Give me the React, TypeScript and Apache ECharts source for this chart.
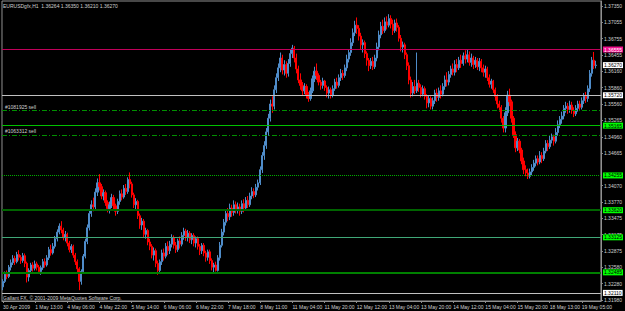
import React, { useEffect, useRef } from 'react';
import * as echarts from 'echarts';

const symbolTitle = 'EURUSDgfx,H1  1.36264 1.36350 1.36210 1.36270';
const copyrightText = 'Gallant FX, \u00A9 2001-2009 MetaQuotes Software Corp.';

const xTickLabels = [
  '30 Apr 2009', '1 May 13:00', '4 May 06:00', '4 May 22:00', '5 May 14:00', '6 May 06:00',
  '6 May 22:00', '7 May 18:00', '8 May 11:00', '11 May 04:00', '11 May 20:00', '12 May 12:00',
  '13 May 04:00', '13 May 20:00', '14 May 12:00', '15 May 04:00', '15 May 20:00', '18 May 13:00',
  '19 May 05:00',
];
const labelEveryBars = 16;
const emptyBarsRight = 2;

const yTicks = [
  1.3198, 1.3228, 1.3258, 1.32875, 1.33175, 1.33475, 1.3377, 1.3407, 1.34665, 1.3496,
  1.35265, 1.3556, 1.3586, 1.3616, 1.36455, 1.36755, 1.37055, 1.3735,
];
const yMin = 1.31962;
const yMax = 1.37441;

// [open, close, low, high]
const candles = [
  [1.3222, 1.3232, 1.3216, 1.3236], [1.3232, 1.3245, 1.3229, 1.3250], [1.3245, 1.3241, 1.3236, 1.3252],
  [1.3241, 1.3258, 1.3238, 1.3262], [1.3258, 1.3266, 1.3252, 1.3272], [1.3266, 1.3274, 1.3262, 1.3280],
  [1.3274, 1.3268, 1.3262, 1.3279], [1.3268, 1.3281, 1.3265, 1.3286], [1.3281, 1.3276, 1.3270, 1.3289],
  [1.3276, 1.3270, 1.3264, 1.3280], [1.3270, 1.3279, 1.3266, 1.3284], [1.3279, 1.3265, 1.3258, 1.3283],
  [1.3265, 1.3240, 1.3230, 1.3268], [1.3240, 1.3252, 1.3232, 1.3256], [1.3252, 1.3262, 1.3248, 1.3266],
  [1.3262, 1.3256, 1.3250, 1.3267], [1.3256, 1.3264, 1.3252, 1.3270], [1.3264, 1.3258, 1.3252, 1.3268],
  [1.3258, 1.3250, 1.3246, 1.3262], [1.3250, 1.3257, 1.3244, 1.3261], [1.3257, 1.3268, 1.3253, 1.3273],
  [1.3268, 1.3262, 1.3257, 1.3274], [1.3262, 1.3275, 1.3259, 1.3280], [1.3275, 1.3290, 1.3271, 1.3295],
  [1.3290, 1.3284, 1.3279, 1.3299], [1.3284, 1.3296, 1.3281, 1.3302], [1.3296, 1.3310, 1.3292, 1.3315],
  [1.3310, 1.3322, 1.3305, 1.3327], [1.3322, 1.3333, 1.3318, 1.3338], [1.3333, 1.3326, 1.3320, 1.3342],
  [1.3326, 1.3312, 1.3307, 1.3330], [1.3312, 1.3318, 1.3305, 1.3324], [1.3318, 1.3302, 1.3296, 1.3321],
  [1.3302, 1.3290, 1.3285, 1.3306], [1.3290, 1.3296, 1.3284, 1.3300], [1.3296, 1.3280, 1.3275, 1.3299],
  [1.3280, 1.3268, 1.3262, 1.3284], [1.3268, 1.3255, 1.3248, 1.3272], [1.3255, 1.3232, 1.3216, 1.3258],
  [1.3232, 1.3250, 1.3226, 1.3254], [1.3250, 1.3278, 1.3246, 1.3282], [1.3278, 1.3305, 1.3274, 1.3310],
  [1.3305, 1.3330, 1.3300, 1.3336], [1.3330, 1.3356, 1.3325, 1.3362], [1.3356, 1.3372, 1.3350, 1.3380],
  [1.3372, 1.3368, 1.3360, 1.3385], [1.3368, 1.3395, 1.3364, 1.3402], [1.3395, 1.3412, 1.3388, 1.3420],
  [1.3412, 1.3405, 1.3398, 1.3428], [1.3405, 1.3388, 1.3382, 1.3410], [1.3388, 1.3394, 1.3380, 1.3400],
  [1.3394, 1.3376, 1.3370, 1.3398], [1.3376, 1.3365, 1.3358, 1.3380], [1.3365, 1.3372, 1.3356, 1.3378],
  [1.3372, 1.3385, 1.3366, 1.3392], [1.3385, 1.3370, 1.3364, 1.3390], [1.3370, 1.3360, 1.3352, 1.3374],
  [1.3360, 1.3378, 1.3355, 1.3383], [1.3378, 1.3392, 1.3372, 1.3398], [1.3392, 1.3386, 1.3380, 1.3400],
  [1.3386, 1.3402, 1.3383, 1.3408], [1.3402, 1.3396, 1.3390, 1.3410], [1.3396, 1.3418, 1.3392, 1.3422],
  [1.3418, 1.3410, 1.3402, 1.3431], [1.3410, 1.3390, 1.3385, 1.3414], [1.3390, 1.3372, 1.3366, 1.3394],
  [1.3372, 1.3378, 1.3362, 1.3384], [1.3378, 1.3352, 1.3346, 1.3381], [1.3352, 1.3335, 1.3328, 1.3356],
  [1.3335, 1.3342, 1.3326, 1.3348], [1.3342, 1.3318, 1.3312, 1.3346], [1.3318, 1.3325, 1.3310, 1.3330],
  [1.3325, 1.3304, 1.3298, 1.3328], [1.3304, 1.3296, 1.3289, 1.3310], [1.3296, 1.3280, 1.3274, 1.3300],
  [1.3280, 1.3288, 1.3270, 1.3294], [1.3288, 1.3265, 1.3258, 1.3292], [1.3265, 1.3252, 1.3244, 1.3270],
  [1.3252, 1.3268, 1.3246, 1.3272], [1.3268, 1.3284, 1.3262, 1.3290], [1.3284, 1.3278, 1.3270, 1.3292],
  [1.3278, 1.3296, 1.3274, 1.3302], [1.3296, 1.3288, 1.3280, 1.3305], [1.3288, 1.3300, 1.3282, 1.3306],
  [1.3300, 1.3312, 1.3294, 1.3318], [1.3312, 1.3298, 1.3292, 1.3316], [1.3298, 1.3290, 1.3284, 1.3304],
  [1.3290, 1.3306, 1.3286, 1.3310], [1.3306, 1.3300, 1.3292, 1.3314], [1.3300, 1.3316, 1.3296, 1.3322],
  [1.3316, 1.3324, 1.3308, 1.3330], [1.3324, 1.3312, 1.3306, 1.3328], [1.3312, 1.3320, 1.3305, 1.3326],
  [1.3320, 1.3308, 1.3302, 1.3324], [1.3308, 1.3316, 1.3300, 1.3320], [1.3316, 1.3302, 1.3296, 1.3320],
  [1.3302, 1.3310, 1.3294, 1.3314], [1.3310, 1.3296, 1.3290, 1.3314], [1.3296, 1.3288, 1.3280, 1.3300],
  [1.3288, 1.3298, 1.3282, 1.3302], [1.3298, 1.3284, 1.3278, 1.3302], [1.3284, 1.3276, 1.3268, 1.3288],
  [1.3276, 1.3286, 1.3270, 1.3290], [1.3286, 1.3270, 1.3264, 1.3290], [1.3270, 1.3258, 1.3252, 1.3274],
  [1.3258, 1.3262, 1.3248, 1.3266], [1.3262, 1.3252, 1.3250, 1.3268], [1.3252, 1.3275, 1.3250, 1.3280],
  [1.3275, 1.3298, 1.3270, 1.3304], [1.3298, 1.3322, 1.3294, 1.3328], [1.3322, 1.3340, 1.3316, 1.3346],
  [1.3340, 1.3356, 1.3334, 1.3362], [1.3356, 1.3350, 1.3342, 1.3366], [1.3350, 1.3366, 1.3344, 1.3374],
  [1.3366, 1.3358, 1.3350, 1.3372], [1.3358, 1.3372, 1.3352, 1.3380], [1.3372, 1.3362, 1.3356, 1.3378],
  [1.3362, 1.3368, 1.3356, 1.3376], [1.3368, 1.3360, 1.3352, 1.3374], [1.3360, 1.3374, 1.3355, 1.3380],
  [1.3374, 1.3366, 1.3358, 1.3382], [1.3366, 1.3380, 1.3362, 1.3386], [1.3380, 1.3372, 1.3366, 1.3388],
  [1.3372, 1.3388, 1.3368, 1.3394], [1.3388, 1.3396, 1.3382, 1.3404], [1.3396, 1.3390, 1.3384, 1.3402],
  [1.3390, 1.3404, 1.3386, 1.3410], [1.3404, 1.3412, 1.3398, 1.3418], [1.3412, 1.3436, 1.3408, 1.3442],
  [1.3436, 1.3462, 1.3430, 1.3468], [1.3462, 1.3480, 1.3454, 1.3488], [1.3480, 1.3505, 1.3474, 1.3512],
  [1.3505, 1.3530, 1.3498, 1.3538], [1.3530, 1.3556, 1.3524, 1.3564], [1.3556, 1.3552, 1.3540, 1.3570],
  [1.3552, 1.3582, 1.3546, 1.3590], [1.3582, 1.3604, 1.3576, 1.3612], [1.3604, 1.3622, 1.3598, 1.3630],
  [1.3622, 1.3640, 1.3614, 1.3650], [1.3640, 1.3618, 1.3610, 1.3646], [1.3618, 1.3628, 1.3608, 1.3636],
  [1.3628, 1.3612, 1.3604, 1.3634], [1.3612, 1.3630, 1.3606, 1.3638], [1.3630, 1.3648, 1.3624, 1.3656],
  [1.3648, 1.3658, 1.3640, 1.3664], [1.3658, 1.3640, 1.3632, 1.3662], [1.3640, 1.3620, 1.3612, 1.3648],
  [1.3620, 1.3600, 1.3594, 1.3626], [1.3600, 1.3590, 1.3582, 1.3612], [1.3590, 1.3580, 1.3572, 1.3596],
  [1.3580, 1.3588, 1.3574, 1.3594], [1.3588, 1.3572, 1.3566, 1.3592], [1.3572, 1.3566, 1.3560, 1.3578],
  [1.3566, 1.3580, 1.3562, 1.3586], [1.3580, 1.3602, 1.3576, 1.3608], [1.3602, 1.3616, 1.3596, 1.3624],
  [1.3616, 1.3608, 1.3600, 1.3630], [1.3608, 1.3596, 1.3590, 1.3612], [1.3596, 1.3590, 1.3582, 1.3600],
  [1.3590, 1.3598, 1.3584, 1.3604], [1.3598, 1.3586, 1.3580, 1.3600], [1.3586, 1.3576, 1.3568, 1.3590],
  [1.3576, 1.3582, 1.3566, 1.3588], [1.3582, 1.3572, 1.3566, 1.3586], [1.3572, 1.3584, 1.3568, 1.3590],
  [1.3584, 1.3596, 1.3580, 1.3602], [1.3596, 1.3590, 1.3584, 1.3604], [1.3590, 1.3604, 1.3586, 1.3610],
  [1.3604, 1.3612, 1.3598, 1.3620], [1.3612, 1.3608, 1.3600, 1.3618], [1.3608, 1.3622, 1.3604, 1.3628],
  [1.3622, 1.3638, 1.3616, 1.3646], [1.3638, 1.3650, 1.3632, 1.3656], [1.3650, 1.3668, 1.3644, 1.3676],
  [1.3668, 1.3686, 1.3662, 1.3694], [1.3686, 1.3700, 1.3680, 1.3708], [1.3700, 1.3694, 1.3684, 1.3714],
  [1.3694, 1.3680, 1.3672, 1.3700], [1.3680, 1.3664, 1.3656, 1.3686], [1.3664, 1.3668, 1.3650, 1.3674],
  [1.3668, 1.3648, 1.3640, 1.3672], [1.3648, 1.3636, 1.3626, 1.3652], [1.3636, 1.3626, 1.3616, 1.3640],
  [1.3626, 1.3634, 1.3620, 1.3640], [1.3634, 1.3624, 1.3618, 1.3642], [1.3624, 1.3640, 1.3620, 1.3646],
  [1.3640, 1.3660, 1.3634, 1.3668], [1.3660, 1.3682, 1.3654, 1.3690], [1.3682, 1.3698, 1.3676, 1.3706],
  [1.3698, 1.3690, 1.3684, 1.3710], [1.3690, 1.3706, 1.3686, 1.3714], [1.3706, 1.3700, 1.3692, 1.3716],
  [1.3700, 1.3712, 1.3696, 1.3720], [1.3712, 1.3702, 1.3694, 1.3718], [1.3702, 1.3690, 1.3682, 1.3710],
  [1.3690, 1.3704, 1.3686, 1.3710], [1.3704, 1.3696, 1.3688, 1.3712], [1.3696, 1.3676, 1.3670, 1.3700],
  [1.3676, 1.3660, 1.3652, 1.3682], [1.3660, 1.3664, 1.3650, 1.3670], [1.3664, 1.3646, 1.3638, 1.3668],
  [1.3646, 1.3626, 1.3618, 1.3650], [1.3626, 1.3600, 1.3592, 1.3632], [1.3600, 1.3576, 1.3568, 1.3606],
  [1.3576, 1.3588, 1.3570, 1.3596], [1.3588, 1.3580, 1.3574, 1.3600], [1.3580, 1.3594, 1.3576, 1.3650],
  [1.3594, 1.3586, 1.3578, 1.3600], [1.3586, 1.3574, 1.3568, 1.3592], [1.3574, 1.3584, 1.3570, 1.3590],
  [1.3584, 1.3570, 1.3564, 1.3588], [1.3570, 1.3558, 1.3548, 1.3574], [1.3558, 1.3566, 1.3550, 1.3572],
  [1.3566, 1.3552, 1.3546, 1.3570], [1.3552, 1.3562, 1.3546, 1.3568], [1.3562, 1.3576, 1.3556, 1.3582],
  [1.3576, 1.3568, 1.3560, 1.3584], [1.3568, 1.3580, 1.3562, 1.3586], [1.3580, 1.3574, 1.3566, 1.3590],
  [1.3574, 1.3588, 1.3570, 1.3594], [1.3588, 1.3600, 1.3582, 1.3608], [1.3600, 1.3596, 1.3588, 1.3614],
  [1.3596, 1.3610, 1.3590, 1.3616], [1.3610, 1.3620, 1.3604, 1.3626], [1.3620, 1.3614, 1.3608, 1.3630],
  [1.3614, 1.3628, 1.3608, 1.3636], [1.3628, 1.3622, 1.3614, 1.3638], [1.3622, 1.3636, 1.3618, 1.3642],
  [1.3636, 1.3630, 1.3622, 1.3646], [1.3630, 1.3644, 1.3626, 1.3650], [1.3644, 1.3638, 1.3630, 1.3654],
  [1.3638, 1.3646, 1.3632, 1.3656], [1.3646, 1.3632, 1.3626, 1.3652], [1.3632, 1.3640, 1.3624, 1.3648],
  [1.3640, 1.3628, 1.3620, 1.3644], [1.3628, 1.3636, 1.3622, 1.3642], [1.3636, 1.3624, 1.3618, 1.3640],
  [1.3624, 1.3634, 1.3616, 1.3640], [1.3634, 1.3622, 1.3614, 1.3638], [1.3622, 1.3614, 1.3606, 1.3628],
  [1.3614, 1.3620, 1.3604, 1.3626], [1.3620, 1.3604, 1.3598, 1.3624], [1.3604, 1.3592, 1.3586, 1.3610],
  [1.3592, 1.3598, 1.3584, 1.3602], [1.3598, 1.3582, 1.3576, 1.3600], [1.3582, 1.3570, 1.3562, 1.3586],
  [1.3570, 1.3556, 1.3548, 1.3574], [1.3556, 1.3550, 1.3542, 1.3562], [1.3550, 1.3530, 1.3522, 1.3554],
  [1.3530, 1.3512, 1.3504, 1.3534], [1.3512, 1.3540, 1.3504, 1.3550], [1.3540, 1.3572, 1.3534, 1.3580],
  [1.3572, 1.3560, 1.3552, 1.3584], [1.3560, 1.3530, 1.3522, 1.3564], [1.3530, 1.3500, 1.3494, 1.3534],
  [1.3500, 1.3476, 1.3468, 1.3506], [1.3476, 1.3488, 1.3470, 1.3494], [1.3488, 1.3472, 1.3466, 1.3492],
  [1.3472, 1.3452, 1.3446, 1.3476], [1.3452, 1.3436, 1.3428, 1.3458], [1.3436, 1.3430, 1.3424, 1.3444],
  [1.3430, 1.3424, 1.3419, 1.3438], [1.3424, 1.3432, 1.3420, 1.3438], [1.3432, 1.3440, 1.3426, 1.3446],
  [1.3440, 1.3448, 1.3434, 1.3454], [1.3448, 1.3456, 1.3442, 1.3462], [1.3456, 1.3450, 1.3444, 1.3462],
  [1.3450, 1.3462, 1.3446, 1.3470], [1.3462, 1.3456, 1.3448, 1.3468], [1.3456, 1.3470, 1.3452, 1.3476],
  [1.3470, 1.3484, 1.3466, 1.3490], [1.3484, 1.3478, 1.3470, 1.3490], [1.3478, 1.3490, 1.3474, 1.3498],
  [1.3490, 1.3496, 1.3484, 1.3502], [1.3496, 1.3488, 1.3480, 1.3500], [1.3488, 1.3504, 1.3484, 1.3512],
  [1.3504, 1.3518, 1.3498, 1.3526], [1.3518, 1.3528, 1.3512, 1.3534], [1.3528, 1.3534, 1.3520, 1.3542],
  [1.3534, 1.3548, 1.3528, 1.3554], [1.3548, 1.3552, 1.3540, 1.3560], [1.3552, 1.3546, 1.3538, 1.3558],
  [1.3546, 1.3554, 1.3540, 1.3562], [1.3554, 1.3544, 1.3538, 1.3560], [1.3544, 1.3538, 1.3532, 1.3550],
  [1.3538, 1.3548, 1.3534, 1.3554], [1.3548, 1.3556, 1.3542, 1.3562], [1.3556, 1.3550, 1.3544, 1.3562],
  [1.3550, 1.3562, 1.3546, 1.3568], [1.3562, 1.3570, 1.3556, 1.3576], [1.3570, 1.3566, 1.3558, 1.3578],
  [1.3566, 1.3584, 1.3560, 1.3590], [1.3584, 1.3612, 1.3578, 1.3618], [1.3612, 1.3636, 1.3606, 1.3642],
  [1.3636, 1.3626, 1.3620, 1.3651], [1.36264, 1.3627, 1.3621, 1.3635],
];

const levelPrices = [1.36555, 1.3572, 1.35165, 1.34255, 1.3362, 1.33125, 1.32485, 1.3211];
const levelStyles = [
  { line: '#c0005a', width: 1, type: 'solid', bg: '#f0108c', text: '#ffffff' },
  { line: '#c0c0c0', width: 1, type: 'solid', bg: '#ffffff', text: '#000000' },
  { line: '#00c000', width: 1, type: 'solid', bg: '#00ff00', text: '#000000' },
  { line: '#00b000', width: 1, type: [1, 1], bg: '#00ff00', text: '#000000' },
  { line: '#006400', width: 2, type: 'solid', bg: '#00ff00', text: '#000000' },
  { line: '#40a878', width: 1, type: 'solid', bg: '#00ff00', text: '#000000' },
  { line: '#008000', width: 2, type: 'solid', bg: '#00ff00', text: '#000000' },
  { line: '#c0c0c0', width: 1, type: 'solid', bg: '#ffffff', text: '#000000' },
];
const orderPrices = [1.3545, 1.34994];
const orderLabels = ['#1081925 sell', '#1063312 sell'];
const lastPrice = 1.3627;

const FONT = 'Liberation Sans';
const TEXT_COLOR = '#d0d0d0';
const FRAME_COLOR = '#909090';

export default function App() {
  const ref = useRef<HTMLDivElement>(null);

  useEffect(() => {
    document.body.style.margin = '0';
    document.body.style.background = '#000';
    if (!ref.current) return;
    const chart = echarts.init(ref.current, undefined, { renderer: 'svg' });

    const categories = candles.map((_, i) => String(i));
    for (let k = 0; k < emptyBarsRight; k++) categories.push('e' + k);

    const levelLines = levelPrices.map((p, i) => {
      const s = levelStyles[i];
      return {
        yAxis: p,
        lineStyle: { color: s.line, width: s.width, type: s.type as any, opacity: 1 },
        label: {
          show: true,
          position: 'end',
          formatter: p.toFixed(5),
          backgroundColor: s.bg,
          color: s.text,
          fontSize: 5,
          fontFamily: FONT,
          padding: [1, 1, 0, 1],
          distance: 2,
        },
      };
    });

    const orderLines = orderPrices.map((p, i) => ({
      yAxis: p,
      lineStyle: { color: '#009000', width: 1, type: [5, 2, 1, 2] as any, opacity: 1 },
      label: {
        show: true,
        position: 'insideStartTop',
        formatter: orderLabels[i],
        color: TEXT_COLOR,
        fontSize: 5,
        fontFamily: FONT,
        distance: [3, 1],
      },
    }));

    const lastLine = {
      yAxis: lastPrice,
      lineStyle: { color: 'rgba(0,0,0,0)', width: 0 },
      label: {
        show: true,
        position: 'end',
        formatter: lastPrice.toFixed(5),
        backgroundColor: '#ffffff',
        color: '#000000',
        fontSize: 5,
        fontFamily: FONT,
        padding: [1, 1, 0, 1],
        distance: 2,
      },
    };

    chart.setOption({
      animation: false,
      backgroundColor: '#000000',
      textStyle: { fontFamily: FONT },
      title: {
        text: symbolTitle,
        left: 3,
        top: 3,
        padding: 0,
        textStyle: { fontSize: 5, color: TEXT_COLOR, fontWeight: 'normal', fontFamily: FONT },
      },
      graphic: [
        {
          type: 'text',
          left: 3,
          top: 295,
          style: { text: copyrightText, fill: TEXT_COLOR, fontSize: 5, fontFamily: FONT },
        },
      ],
      grid: {
        left: 1,
        top: 1,
        width: 604,
        height: 300,
        show: true,
        borderColor: FRAME_COLOR,
        borderWidth: 1,
        backgroundColor: '#000000',
      },
      xAxis: {
        type: 'category',
        data: categories,
        boundaryGap: true,
        axisLine: { show: true, lineStyle: { color: FRAME_COLOR } },
        axisTick: {
          show: true,
          interval: labelEveryBars - 1,
          alignWithLabel: true,
          length: 2,
          lineStyle: { color: FRAME_COLOR },
        },
        axisLabel: {
          interval: labelEveryBars - 1,
          formatter: (_v: string, idx: number) => xTickLabels[idx / labelEveryBars] ?? '',
          align: 'left',
          fontSize: 5,
          margin: 3,
          color: TEXT_COLOR,
          fontFamily: FONT,
        },
        splitLine: { show: false },
      },
      yAxis: {
        type: 'value',
        position: 'right',
        min: yMin,
        max: yMax,
        scale: true,
        splitLine: { show: false },
        axisLine: { show: true, lineStyle: { color: FRAME_COLOR } },
        axisTick: {
          show: true,
          length: 2,
          customValues: yTicks,
          lineStyle: { color: FRAME_COLOR },
        },
        axisLabel: {
          customValues: yTicks,
          formatter: (v: number) => v.toFixed(5),
          fontSize: 5,
          margin: 3,
          color: TEXT_COLOR,
          fontFamily: FONT,
        },
      },
      series: [
        {
          type: 'candlestick',
          data: candles,
          barWidth: 1.6,
          itemStyle: {
            color: '#4f8cc9',
            color0: '#ff0000',
            borderColor: '#4f8cc9',
            borderColor0: '#ff0000',
            borderWidth: 1,
          },
          markLine: {
            silent: true,
            precision: 5,
            symbol: ['none', 'none'],
            animation: false,
            data: [...levelLines, ...orderLines, lastLine],
          },
        },
      ],
    });

    return () => chart.dispose();
  }, []);

  return <div ref={ref} style={{ width: 625, height: 311, background: '#000' }} />;
}
